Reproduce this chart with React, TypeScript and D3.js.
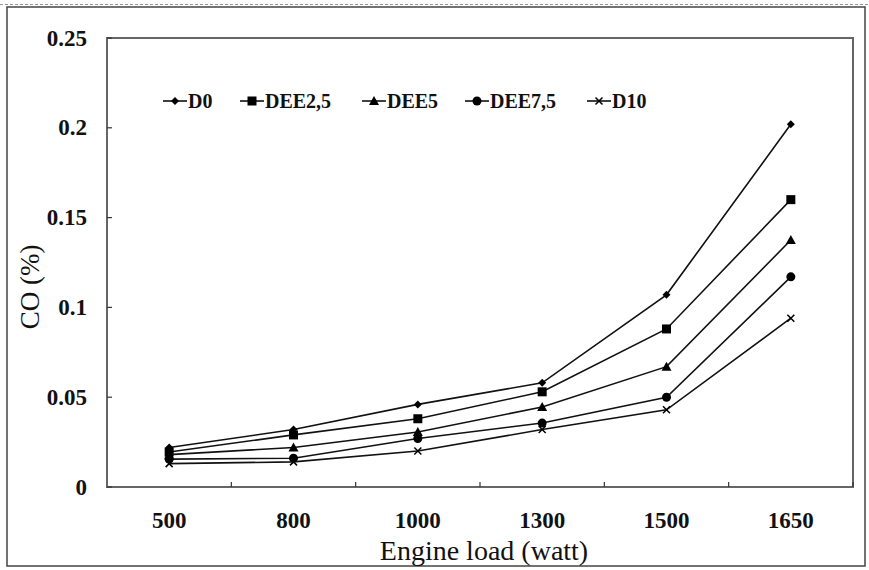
import React from "react";
import * as d3 from "d3";

const categories = ["500", "800", "1000", "1300", "1500", "1650"];
const seriesNames = ["D0", "DEE2,5", "DEE5", "DEE7,5", "D10"];
const D0 = [0.022, 0.032, 0.046, 0.058, 0.107, 0.202];
const DEE25 = [0.0195, 0.029, 0.038, 0.053, 0.088, 0.160];
const DEE5 = [0.018, 0.022, 0.0306, 0.0445, 0.067, 0.1375];
const DEE75 = [0.0155, 0.016, 0.027, 0.0356, 0.050, 0.117];
const D10 = [0.013, 0.014, 0.020, 0.032, 0.043, 0.094];
const yTicks = [0, 0.05, 0.1, 0.15, 0.2, 0.25];
const yTickLabels = ["0", "0.05", "0.1", "0.15", "0.2", "0.25"];

const seriesValues = [D0, DEE25, DEE5, DEE75, D10];
const markerTypes = ["diamond", "square", "triangle", "circle", "cross"];
const legendX = [163, 240, 362, 465, 587];

const W = 869, H = 570;
const L = 107, R = 853, T = 38, B = 487;
const FONT = "'Liberation Serif', 'Times New Roman', serif";

function Marker({ type, x, y }: { type: string; x: number; y: number }) {
  if (type === "diamond") {
    const s = 4;
    return <path d={`M${x},${y - s}L${x + s},${y}L${x},${y + s}L${x - s},${y}Z`} fill="#000" />;
  }
  if (type === "square") {
    const s = 4.5;
    return <rect x={x - s} y={y - s} width={2 * s} height={2 * s} fill="#000" />;
  }
  if (type === "triangle") {
    const s = 5;
    return <path d={`M${x},${y - s}L${x + s},${y + s * 0.8}L${x - s},${y + s * 0.8}Z`} fill="#000" />;
  }
  if (type === "circle") {
    return <circle cx={x} cy={y} r={4.5} fill="#000" />;
  }
  const s = 3.5;
  return (
    <path d={`M${x - s},${y - s}L${x + s},${y + s}M${x - s},${y + s}L${x + s},${y - s}`} stroke="#000" strokeWidth={1.5} />
  );
}

export default function App() {
  const x = d3.scaleBand<string>().domain(categories).range([L, R]);
  const y = d3.scaleLinear().domain([0, 0.25]).range([B, T]);
  const cx = (c: string) => (x(c) as number) + x.bandwidth() / 2;
  const line = d3
    .line<number>()
    .x((_, i) => cx(categories[i]))
    .y((v) => y(v));

  const bandEdges = categories.map((c) => (x(c) as number) + x.bandwidth());

  return (
    <svg
      width={W}
      height={H}
      style={{ position: "absolute", left: 0, top: 0, background: "#fff" }}
      fontFamily={FONT}
    >
      <rect x={0} y={0} width={W} height={H} fill="#fff" />
      <line x1={0} y1={4.5} x2={W} y2={4.5} stroke="#8899aa" strokeWidth={1} strokeDasharray="3,2" />
      <rect x={7} y={7} width={858} height={559} fill="none" stroke="#444" strokeWidth={1.5} />
      {/* plot frame */}
      <rect x={L} y={T} width={R - L} height={B - T} fill="none" stroke="#666" strokeWidth={2} />
      {/* y ticks */}
      {yTicks.map((t, i) => (
        <g key={"y" + i}>
          <line x1={L} x2={L + 5} y1={y(t)} y2={y(t)} stroke="#333" strokeWidth={1.2} />
          <text
            x={87}
            y={y(t)}
            textAnchor="end"
            dominantBaseline="central"
            fontSize={23}
            fontWeight="bold"
            fill="#111"
          >
            {yTickLabels[i]}
          </text>
        </g>
      ))}
      {/* x ticks */}
      {bandEdges.map((e, i) => (
        <line key={"xt" + i} x1={e} x2={e} y1={B} y2={B - 5} stroke="#333" strokeWidth={1.2} />
      ))}
      {categories.map((c) => (
        <text
          key={"xl" + c}
          x={cx(c)}
          y={520}
          textAnchor="middle"
          dominantBaseline="central"
          fontSize={23}
          fontWeight="bold"
          fill="#111"
        >
          {c}
        </text>
      ))}
      <text x={(L + R) / 2 + 4} y={550} textAnchor="middle" dominantBaseline="central" fontSize={28} fill="#111">
        Engine load (watt)
      </text>
      <text
        transform={`translate(30,${287}) rotate(-90)`}
        textAnchor="middle"
        dominantBaseline="central"
        fontSize={27}
        fill="#111"
      >
        CO (%)
      </text>
      {/* series */}
      {seriesValues.map((vals, si) => (
        <g key={"s" + si}>
          <path d={line(vals) || ""} fill="none" stroke="#111" strokeWidth={1.6} />
          {vals.map((v, i) => (
            <Marker key={i} type={markerTypes[si]} x={cx(categories[i])} y={y(v)} />
          ))}
        </g>
      ))}
      {/* legend */}
      {seriesNames.map((n, i) => (
        <g key={"lg" + i}>
          <line x1={legendX[i]} x2={legendX[i] + 24} y1={101} y2={101} stroke="#111" strokeWidth={1.6} />
          <Marker type={markerTypes[i]} x={legendX[i] + 12} y={101} />
          <text
            x={legendX[i] + 25}
            y={101}
            dominantBaseline="central"
            fontSize={20}
            fontWeight="bold"
            fill="#111"
          >
            {n}
          </text>
        </g>
      ))}
    </svg>
  );
}
